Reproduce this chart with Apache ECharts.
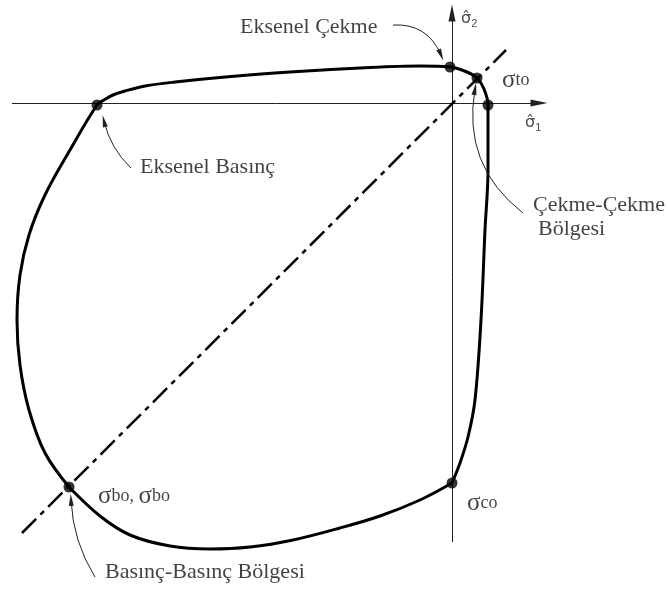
<!DOCTYPE html>
<html>
<head>
<meta charset="utf-8">
<script src="https://cdn.jsdelivr.net/npm/echarts@6/dist/echarts.min.js"></script>
<style>
  html, body { margin: 0; background: #fff; }
  #chart { width: 668px; height: 592px; }
</style>
</head>
<body>
<div id="chart"></div>
<script>
// yield surface, in diagram units (origin at the axes crossing)
// left side up to Eksenel Basınç, then over the top and down the right side
const curveLeftTop = [
  [-383, -384], [-407, -350], [-423, -307], [-432, -262], [-435, -217],
  [-432, -172], [-423, -132], [-407, -92], [-382, -47], [-355, -2],
  [-348, 3], [-339, 8], [-327, 12], [-307, 17], [-277, 21], [-232, 25.5],
  [-162, 31], [-82, 35.5], [-32, 37], [-2, 36], [15, 31], [25, 25], [32, 14], [36, -2],
  [36, -67], [33, -127], [29, -217], [23, -297], [16, -334], [8, -360], [0, -380]
]
const curveBottom = [
  [0, -380], [-32, -397], [-72, -413], [-112, -425], [-159, -437],
  [-202, -444], [-242, -446], [-282, -443], [-322, -432], [-352, -413], [-383, -384]
]
const keyPoints = [[-355, -2], [-2, 36], [25, 25], [36, -2], [-383, -384], [0, -380]]
const diagonal = [[-430, -430], [54, 53]]
const axisLines = [
  [[-440, 0], [87, 0]],
  [[0, -439], [0, 90]]
]
// leader arrows: [from, to, curveness]
const leaders = [
  [[-59, 78], [-11, 48], 0.35],
  [[-321, -65], [-348, -18], 0.15],
  [[71, -110], [23, 14], 0.3],
  [[-357, -474], [-381, -397], 0.13]
]
const textLabels = [
  ['Eksenel Çekme', -212, 76],
  ['Eksenel Basınç', -312, -64],
  ['Çekme-Çekme', 81, -102],
  ['Bölgesi', 86, -126],
  ['Basınç-Basınç Bölgesi', -347, -469]
]
const sigmaLabels = [
  [['to'], 50, 23],
  [['bo', 'bo'], -354, -393],
  [['co'], 15, -400]
]
const axisNames = [
  ['1', 73, -20],
  ['2', 9, 84]
]

const serif = 'Liberation Serif'
const chart = echarts.init(document.getElementById('chart'))

const curveSeries = [curveLeftTop, curveBottom].map(d => ({
  type: 'line',
  data: d,
  smooth: 0.35,
  symbol: 'none',
  lineStyle: { color: '#000', width: 3 },
  z: 5
}))

const option = {
  animation: false,
  grid: { left: 0, right: 0, top: 0, bottom: 0 },
  xAxis: { type: 'value', min: -452, max: 216, show: false },
  yAxis: { type: 'value', min: -489, max: 103, show: false },
  series: [
    {
      type: 'lines',
      coordinateSystem: 'cartesian2d',
      symbol: ['none', 'triangle'],
      symbolSize: [0, [7, 17]],
      lineStyle: { color: '#222', width: 1, opacity: 1 },
      data: axisLines.map(c => ({ coords: c })),
      z: 2
    },
    {
      type: 'line',
      data: diagonal,
      symbol: 'none',
      lineStyle: { color: '#000', width: 2.5, type: [20, 6, 5, 6] },
      z: 3
    },
    ...curveSeries,
    {
      type: 'lines',
      coordinateSystem: 'cartesian2d',
      symbol: ['none', 'triangle'],
      symbolSize: [0, [5, 12]],
      lineStyle: { color: '#222', width: 1, opacity: 1 },
      data: leaders.map(l => ({
        coords: [l[0], l[1]],
        lineStyle: { curveness: l[2] }
      })),
      z: 6
    },
    {
      type: 'scatter',
      data: keyPoints,
      symbolSize: 11,
      itemStyle: { color: '#000' },
      z: 7
    },
    {
      type: 'scatter',
      symbolSize: 0,
      silent: true,
      data: textLabels.map(t => ({ value: [t[1], t[2]], name: t[0] })),
      label: {
        show: true,
        position: 'right',
        distance: 0,
        formatter: p => p.name,
        fontFamily: serif,
        fontSize: 22,
        color: '#111'
      },
      z: 8
    },
    {
      type: 'scatter',
      symbolSize: 0,
      silent: true,
      data: sigmaLabels.map(t => ({
        value: [t[1], t[2]],
        name: t[0].map(s => '{s|σ}{t|' + s + '}').join('{t|, }')
      })),
      label: {
        show: true,
        position: 'right',
        distance: 0,
        formatter: p => p.name,
        color: '#111',
        rich: {
          s: { fontFamily: serif, fontSize: 25, color: '#111' },
          t: { fontFamily: serif, fontSize: 18, color: '#111' }
        }
      },
      z: 8
    },
    {
      type: 'scatter',
      symbolSize: 0,
      silent: true,
      data: axisNames.map(t => ({ value: [t[1], t[2]], name: t[0] })),
      label: {
        show: true,
        position: 'right',
        distance: 0,
        formatter: p => '{s|σ\u0302}{n|' + p.name + '}',
        color: '#222',
        rich: {
          s: { fontFamily: 'DejaVu Sans', fontSize: 16, color: '#222' },
          n: { fontFamily: 'Liberation Sans', fontSize: 11, color: '#222', verticalAlign: 'bottom', padding: [10, 0, 0, 0] }
        }
      },
      z: 8
    }
  ]
}
chart.setOption(option)
</script>
</body>
</html>
